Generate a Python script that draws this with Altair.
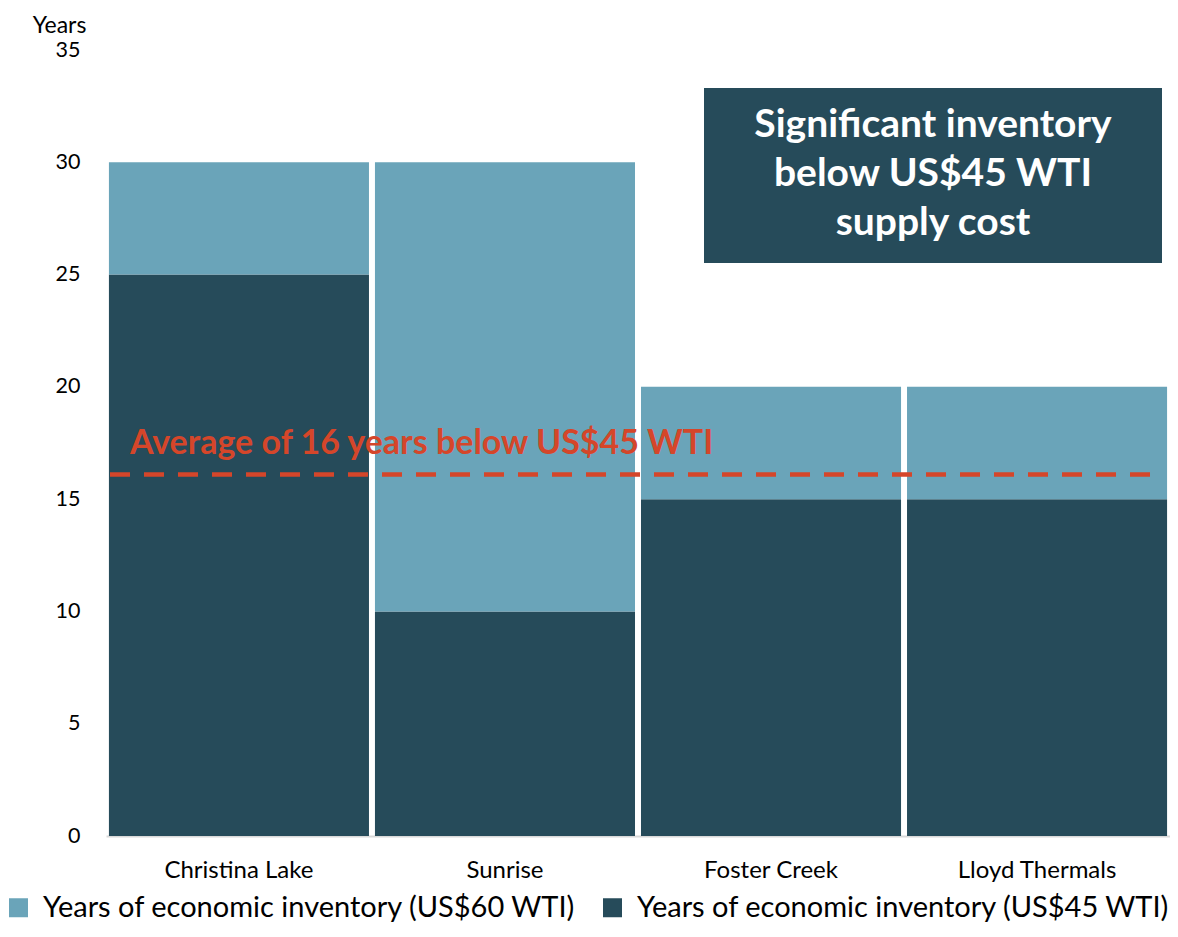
import altair as alt
import pandas as pd

sites = ["Christina Lake", "Sunrise", "Foster Creek", "Lloyd Thermals"]
years_45 = [25, 10, 15, 15]
years_60 = [30, 30, 20, 20]
series = ["Years of economic inventory (US$60 WTI)", "Years of economic inventory (US$45 WTI)"]
colors = ["#6AA4B9", "#264B5A"]
avg_value = [16.1]
avg_label = ["Average of 16 years below US$45 WTI"]
box_lines = ["Significant inventory", "below US$45 WTI", "supply cost"]

FONT = "Lato"
LEFT = 98
W, H = 1064, 786

rows = []
for s, a, b in zip(sites, years_45, years_60):
    rows.append({"site": s, "series": series[1], "start": 0, "end": a})
    rows.append({"site": s, "series": series[0], "start": a, "end": b})
df = pd.DataFrame(rows)

yscale = alt.Scale(domain=[0, 35], nice=False)

xenc = alt.X("site:N", sort=sites, title=None,
             scale=alt.Scale(paddingInner=0.0225, paddingOuter=0.011),
             axis=alt.Axis(labelAngle=0, ticks=False, labelPadding=22, labelFontSize=24,
                           labelFont=FONT, labelColor="#000000", domainColor="#D9D9D9",
                           domainWidth=2))
yenc = alt.Y("start:Q", title="Years", scale=yscale,
             axis=alt.Axis(values=[0, 5, 10, 15, 20, 25, 30, 35], grid=False, domain=False,
                           ticks=False, labelPadding=26, labelFontSize=21.5, labelFont=FONT,
                           labelColor="#000000", titleAngle=0, titleX=-47, titleY=-18,
                           titleAlign="center", titleBaseline="alphabetic", titleFontSize=23,
                           titleFont=FONT, titleFontWeight="normal", titleColor="#000000"))

bars = alt.Chart(df).mark_bar(stroke=None).encode(
    x=xenc, y=yenc, y2="end:Q",
    color=alt.Color("series:N", sort=series,
                    scale=alt.Scale(domain=series, range=colors),
                    legend=alt.Legend(title=None, orient="none", direction="horizontal",
                                      legendX=-LEFT - 4, legendY=843, symbolType="square",
                                      symbolSize=361, symbolStrokeWidth=0, labelFontSize=29,
                                      labelFont=FONT, labelColor="#000000",
                                      columnPadding=22, labelOffset=10, labelLimit=800)),
)

avg_df = pd.DataFrame({"v": avg_value, "label": avg_label})
rule = alt.Chart(avg_df).mark_rule(color="#D5462A", strokeWidth=4.5, strokeDash=[20, 14]).encode(
    y=alt.Y("v:Q", scale=yscale),
    x=alt.value(4), x2=alt.value(W - 6),
)
avg_text = alt.Chart(avg_df).mark_text(align="left", baseline="alphabetic", font=FONT,
                                       fontWeight="bold", fontSize=34, color="#D5462A",
                                       dy=-20).encode(
    y=alt.Y("v:Q", scale=yscale),
    x=alt.value(24), text="label:N",
)

box_df = pd.DataFrame({"t": ["\n".join(box_lines)]})
box = alt.Chart(box_df).mark_rect(color="#264B5A").encode(
    x=alt.value(598), x2=alt.value(1056), y=alt.value(38), y2=alt.value(213),
)
box_text = alt.Chart(box_df).mark_text(align="center", baseline="alphabetic", font=FONT,
                                       fontWeight="bold", fontSize=39, color="#FFFFFF",
                                       lineBreak="\n", lineHeight=49).encode(
    x=alt.value(827), y=alt.value(87), text="t:N",
)

chart = alt.layer(bars, rule, avg_text, box, box_text).properties(
    width=W, height=H,
    autosize=alt.AutoSizeParams(type="none"),
    padding={"left": LEFT, "top": 42, "right": 0, "bottom": 90},
).configure(background="#FFFFFF", view=alt.ViewConfig(stroke=None))

chart.save("out.html", embed_options={"renderer": "svg", "actions": False})
